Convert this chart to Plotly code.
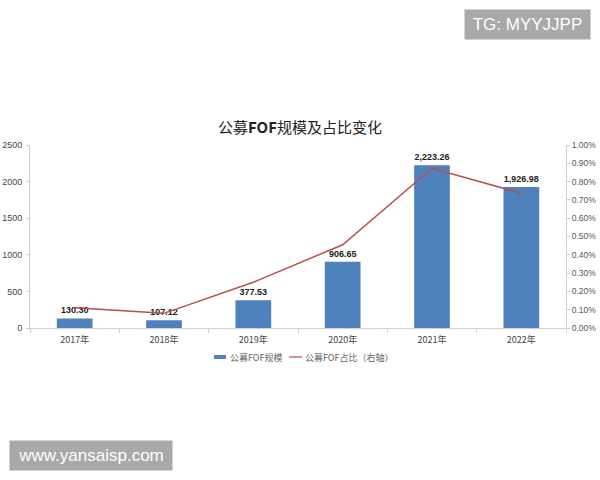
import plotly.graph_objects as go

categories = ["2017年", "2018年", "2019年", "2020年", "2021年", "2022年"]
scale_values = [130.30, 107.12, 377.53, 906.65, 2223.26, 1926.98]
share_values = [0.0011, 0.0008, 0.0025, 0.00455, 0.00873, 0.00736]
left_ticks = [0, 500, 1000, 1500, 2000, 2500]
right_ticks = [0, 0.001, 0.002, 0.003, 0.004, 0.005, 0.006, 0.007, 0.008, 0.009, 0.010]
series_names = ["公募FOF规模", "公募FOF占比（右轴）"]

FONT = "Noto Sans CJK SC, Noto Sans, sans-serif"
NUMFONT = "Liberation Sans, Arial, sans-serif"
BAR_COLOR = "#4F81BD"
LINE_COLOR = "#B5504D"
AXIS_COLOR = "#D0D0D0"

L, R, T, B = 30, 34, 145, 152
plot_w = 600 - L - R
plot_h = 480 - T - B


def px_x(x):
    return (x - L) / plot_w


def px_y(y):
    return (480 - B - y) / plot_h


fig = go.Figure()
fig.add_trace(go.Bar(
    x=categories, y=scale_values, name=series_names[0],
    marker=dict(color=BAR_COLOR, line=dict(width=0)),
    width=0.4,
    texttemplate="<b>%{y:,.2f}</b>", textposition="outside",
    textfont=dict(size=9, color="#222222", family=NUMFONT),
    cliponaxis=False,
))
fig.add_trace(go.Scatter(
    x=categories, y=share_values, name=series_names[1],
    mode="lines", line=dict(color=LINE_COLOR, width=1.5),
    yaxis="y2",
))

fig.update_layout(
    width=600, height=480,
    margin=dict(l=L, r=R, t=T, b=B, autoexpand=False),
    paper_bgcolor="white", plot_bgcolor="white",
    font=dict(family=FONT, size=9, color="#444444"),
    showlegend=False,
    xaxis=dict(showgrid=False, showline=True, linecolor=AXIS_COLOR, linewidth=1,
               ticks="outside", tickson="boundaries", ticklen=4, tickcolor=AXIS_COLOR,
               tickfont=dict(size=9, color="#444444"), automargin=False,
               ticklabelstandoff=3),
    yaxis=dict(range=[0, 2500], tickvals=left_ticks, showgrid=False, showline=True,
               linecolor=AXIS_COLOR, ticks="outside", ticklen=3, tickcolor=AXIS_COLOR,
               tickfont=dict(size=9, color="#444444", family=NUMFONT), zeroline=False,
               automargin=False, ticklabelstandoff=2),
    yaxis2=dict(range=[0, 0.010], tickvals=right_ticks, tickformat=".2%", overlaying="y",
                side="right", showgrid=False, showline=True, linecolor=AXIS_COLOR,
                ticks="outside", ticklen=3, tickcolor=AXIS_COLOR,
                tickfont=dict(size=8.5, color="#555555", family=NUMFONT), zeroline=False,
                automargin=False),
)

# title
fig.add_annotation(text="公募<b>FOF</b>规模及占比变化", x=px_x(300), y=px_y(127),
                   xref="paper", yref="paper", showarrow=False,
                   font=dict(size=15, color="#222222", family=FONT),
                   xanchor="center", yanchor="middle")

# manual legend
leg_y = px_y(357)
fig.add_shape(type="rect", xref="paper", yref="paper",
              x0=px_x(214), x1=px_x(226), y0=px_y(359), y1=px_y(355),
              fillcolor=BAR_COLOR, line=dict(width=0))
fig.add_annotation(text=series_names[0], x=px_x(228), y=leg_y, xref="paper", yref="paper",
                   xanchor="left", yanchor="middle", showarrow=False,
                   font=dict(size=9, color="#666666", family=FONT))
fig.add_shape(type="line", xref="paper", yref="paper",
              x0=px_x(289), x1=px_x(302), y0=leg_y, y1=leg_y,
              line=dict(color=LINE_COLOR, width=1.2))
fig.add_annotation(text=series_names[1], x=px_x(303), y=leg_y, xref="paper", yref="paper",
                   xanchor="left", yanchor="middle", showarrow=False,
                   font=dict(size=9, color="#666666", family=FONT))

# watermarks
fig.add_annotation(text="TG: MYYJJPP", xref="paper", yref="paper",
                   x=px_x(527), y=px_y(25),
                   xanchor="center", yanchor="middle", showarrow=False,
                   bgcolor="#A9A9A9", borderpad=5, width=115,
                   font=dict(size=17, color="white", family=NUMFONT))
fig.add_annotation(text="www.yansaisp.com", xref="paper", yref="paper",
                   x=px_x(91), y=px_y(455),
                   xanchor="center", yanchor="middle", showarrow=False,
                   bgcolor="#A9A9A9", borderpad=5, width=152,
                   font=dict(size=17, color="white", family=NUMFONT))

fig.write_html("out.html", config={"displayModeBar": False},
               post_script="document.body.style.margin='0px';")
